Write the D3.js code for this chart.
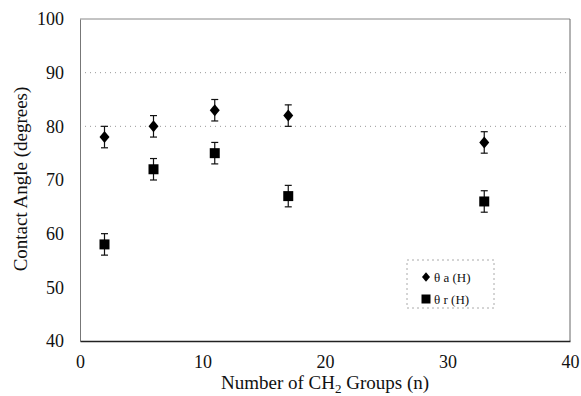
<!DOCTYPE html>
<html>
<head>
<meta charset="utf-8">
<script src="https://cdn.jsdelivr.net/npm/d3@7"></script>
</head>
<body style="margin:0;background:#fff">
<svg id="chart" width="581" height="396"></svg>
<script>
// Number of CH2 groups in the chain
const nGroups = [2, 6, 11, 17, 33];
// Advancing and receding contact angles (degrees)
const thetaA = [78, 80, 83, 82, 77];
const thetaR = [58, 72, 75, 67, 66];
// Error bar half-widths (degrees)
const errA = [2, 2, 2, 2, 2];
const errR = [2, 2, 2, 2, 2];
const xTicks = [0, 10, 20, 30, 40];
const yTicks = [40, 50, 60, 70, 80, 90, 100];
const gridLevels = [80, 90];

const FONT = "Liberation Serif";
const svg = d3.select("#chart");
const m = { left: 80, right: 570, top: 19, bottom: 341 };

const x = d3.scaleLinear().domain([0, 40]).range([m.left, m.right]);
const y = d3.scaleLinear().domain([40, 100]).range([m.bottom, m.top]);

// dotted horizontal grid
svg.append("g").selectAll("line").data(gridLevels).join("line")
  .attr("x1", m.left).attr("x2", m.right)
  .attr("y1", d => y(d)).attr("y2", d => y(d))
  .attr("stroke", "#999").attr("stroke-width", 1)
  .attr("stroke-dasharray", "1,4");

// frame
svg.append("line").attr("x1", m.left).attr("x2", m.right).attr("y1", m.top).attr("y2", m.top)
  .attr("stroke", "#888").attr("stroke-width", 1);
svg.append("line").attr("x1", m.right).attr("x2", m.right).attr("y1", m.top).attr("y2", m.bottom)
  .attr("stroke", "#666").attr("stroke-width", 1);

// axes without tick marks
const yAxis = d3.axisLeft(y).tickValues(yTicks).tickSize(0).tickPadding(16);
const xAxis = d3.axisBottom(x).tickValues(xTicks).tickSize(0).tickPadding(14);

const gy = svg.append("g").attr("transform", `translate(${m.left},0)`).call(yAxis)
  .attr("font-family", FONT).attr("font-size", 18);
gy.select(".domain").attr("stroke", "#777").attr("stroke-width", 1);
gy.selectAll("text").attr("font-family", FONT).attr("font-size", 18).attr("fill", "#111");

const gx = svg.append("g").attr("transform", `translate(0,${m.bottom})`).call(xAxis)
  .attr("font-family", FONT).attr("font-size", 18);
gx.select(".domain").attr("stroke", "#222").attr("stroke-width", 1.5);
gx.selectAll("text").attr("font-family", FONT).attr("font-size", 18).attr("fill", "#111");

// axis titles
const xt = svg.append("text").attr("x", 325).attr("y", 389).attr("text-anchor", "middle")
  .attr("font-size", 19).attr("font-family", FONT).attr("fill", "#111");
xt.append("tspan").text("Number of CH");
xt.append("tspan").attr("font-size", 13).attr("dy", 4).text("2");
xt.append("tspan").attr("dy", -4).text(" Groups (n)");

svg.append("text").attr("transform", "translate(27,179) rotate(-90)")
  .attr("text-anchor", "middle").attr("font-size", 19).attr("font-family", FONT)
  .attr("fill", "#111").text("Contact Angle (degrees)");

// error bars + markers
function series(vals, errs, shape) {
  const g = svg.append("g");
  const pts = nGroups.map((n, i) => ({ n, v: vals[i], e: errs[i] }));
  const eb = g.selectAll("g.eb").data(pts).join("g").attr("class", "eb");
  eb.append("line").attr("x1", d => x(d.n)).attr("x2", d => x(d.n))
    .attr("y1", d => y(d.v - d.e)).attr("y2", d => y(d.v + d.e)).attr("stroke", "#111").attr("stroke-width", 1.2);
  [1, -1].forEach(s => {
    eb.append("line").attr("x1", d => x(d.n) - 3.5).attr("x2", d => x(d.n) + 3.5)
      .attr("y1", d => y(d.v + s * d.e)).attr("y2", d => y(d.v + s * d.e)).attr("stroke", "#111").attr("stroke-width", 1.2);
  });
  g.selectAll("path.mk").data(pts).join("path").attr("class", "mk")
    .attr("transform", d => `translate(${x(d.n)},${y(d.v)})`)
    .attr("d", shape).attr("fill", "#000");
}
const diamond = "M0,-6L5,0L0,6L-5,0Z";
const square = "M-5,-5H5V5H-5Z";
series(thetaA, errA, diamond);
series(thetaR, errR, square);

// legend
const lg = svg.append("g");
lg.append("rect").attr("x", 407).attr("y", 260).attr("width", 87).attr("height", 48)
  .attr("fill", "none").attr("stroke", "#aaa").attr("stroke-width", 1).attr("stroke-dasharray", "2,3");
const legendItems = [{ label: "θ a (H)", shape: diamond, yy: 277 }, { label: "θ r (H)", shape: "M-4.5,-4.5H4.5V4.5H-4.5Z", yy: 299 }];
legendItems.forEach(it => {
  lg.append("path").attr("d", it.shape).attr("transform", `translate(426,${it.yy})` + (it.shape === diamond ? " scale(0.8)" : "")).attr("fill", "#000");
  lg.append("text").attr("x", 434).attr("y", it.yy + 4.5).attr("font-size", 13).attr("font-family", FONT)
    .attr("fill", "#111").text(it.label);
});
</script>
</body>
</html>
